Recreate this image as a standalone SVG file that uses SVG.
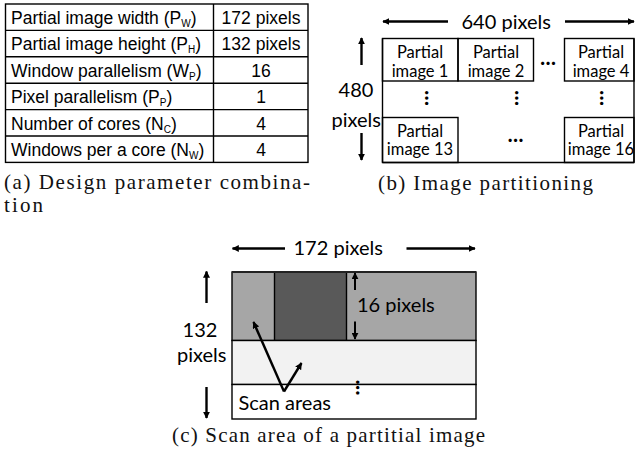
<svg xmlns="http://www.w3.org/2000/svg" width="635" height="453" viewBox="0 0 635 453">
  <defs>
    <marker id="ah" viewBox="0 0 10 10" refX="9" refY="5" markerWidth="7" markerHeight="7" markerUnits="userSpaceOnUse" orient="auto">
      <path d="M0,0 L10,5 L0,10 z" fill="#000"/>
    </marker>
    <style>
      .tbl { font-family: "Liberation Sans", Arial, sans-serif; font-size: 17.5px; fill: #000; }
      .sub { font-size: 10px; }
      .cal { font-family: Lato, "Open Sans", sans-serif; fill: #000; }
      .cell { font-size: 16.5px; }
      .lbl { font-size: 20px; }
      .cap { font-family: "Liberation Serif", "Times New Roman", serif; font-size: 21px; fill: #111; }
      .grid { fill: none; stroke: #000; stroke-width: 1.4; }
      .arr { stroke: #000; stroke-width: 2.4; fill: none; marker-end: url(#ah); }
      .dots { font-family: Lato, sans-serif; font-size: 20px; font-weight: 900; fill: #000; }
    </style>
  </defs>

  <!-- (a) parameter table -->
  <g id="param-table">
    <rect class="grid" x="5.5" y="4" width="302.5" height="158.4"/>
    <line class="grid" x1="213.5" y1="4" x2="213.5" y2="162.4"/>
    <line class="grid" x1="5.5" y1="30.4" x2="308" y2="30.4"/>
    <line class="grid" x1="5.5" y1="56.8" x2="308" y2="56.8"/>
    <line class="grid" x1="5.5" y1="83.2" x2="308" y2="83.2"/>
    <line class="grid" x1="5.5" y1="109.6" x2="308" y2="109.6"/>
    <line class="grid" x1="5.5" y1="136" x2="308" y2="136"/>
    <text class="tbl" x="11" y="24">Partial image width (P<tspan class="sub" dy="3">W</tspan><tspan dy="-3">)</tspan></text>
    <text class="tbl" x="11" y="50.4">Partial image height (P<tspan class="sub" dy="3">H</tspan><tspan dy="-3">)</tspan></text>
    <text class="tbl" x="11" y="76.8">Window parallelism (W<tspan class="sub" dy="3">P</tspan><tspan dy="-3">)</tspan></text>
    <text class="tbl" x="11" y="103.2">Pixel parallelism (P<tspan class="sub" dy="3">P</tspan><tspan dy="-3">)</tspan></text>
    <text class="tbl" x="11" y="129.6">Number of cores (N<tspan class="sub" dy="3">C</tspan><tspan dy="-3">)</tspan></text>
    <text class="tbl" x="11" y="156">Windows per a core (N<tspan class="sub" dy="3">W</tspan><tspan dy="-3">)</tspan></text>
    <g text-anchor="middle">
      <text class="tbl" x="261" y="24">172 pixels</text>
      <text class="tbl" x="261" y="50.4">132 pixels</text>
      <text class="tbl" x="261" y="76.8">16</text>
      <text class="tbl" x="261" y="103.2">1</text>
      <text class="tbl" x="261" y="129.6">4</text>
      <text class="tbl" x="261" y="156">4</text>
    </g>
  </g>
  <text class="cap" x="4" y="188.5" textLength="306" lengthAdjust="spacing">(a) Design parameter combina-</text>
  <text class="cap" x="4" y="212" textLength="39" lengthAdjust="spacing">tion</text>

  <!-- (b) image partitioning -->
  <g id="frame">
    <line class="grid" x1="382.5" y1="38.5" x2="382.5" y2="162.5"/>
    <line class="grid" x1="382.5" y1="162.5" x2="634" y2="162.5"/>
    <line class="grid" x1="634" y1="38.5" x2="634" y2="162.5"/>
  </g>
  <g id="partial-1">
    <rect class="grid" x="382.5" y="38.5" width="75.5" height="42.5"/>
    <text class="cal cell" x="420" y="58" text-anchor="middle">Partial</text>
    <text class="cal cell" x="420" y="76.5" text-anchor="middle">image 1</text>
  </g>
  <g id="partial-2">
    <rect class="grid" x="458" y="38.5" width="75.5" height="42.5"/>
    <text class="cal cell" x="496" y="58" text-anchor="middle">Partial</text>
    <text class="cal cell" x="496" y="76.5" text-anchor="middle">image 2</text>
  </g>
  <g id="partial-4">
    <rect class="grid" x="564.5" y="38.5" width="69.5" height="42.5"/>
    <text class="cal cell" x="601" y="58" text-anchor="middle">Partial</text>
    <text class="cal cell" x="601" y="76.5" text-anchor="middle">image 4</text>
  </g>
  <g id="partial-13">
    <rect class="grid" x="382.5" y="117.5" width="75.5" height="45"/>
    <text class="cal cell" x="420" y="136.5" text-anchor="middle">Partial</text>
    <text class="cal cell" x="420" y="155" text-anchor="middle">image 13</text>
  </g>
  <g id="partial-16">
    <rect class="grid" x="564.5" y="117.5" width="69.5" height="45"/>
    <text class="cal cell" x="601" y="136.5" text-anchor="middle">Partial</text>
    <text class="cal cell" x="601" y="155" text-anchor="middle">image 16</text>
  </g>
  <g id="ellipses-b">
    <text class="dots" x="548" y="65" text-anchor="middle">…</text>
    <text class="dots" x="515.5" y="141.5" text-anchor="middle">…</text>
    <text class="dots" text-anchor="middle" transform="translate(425,98) rotate(90)">…</text>
    <text class="dots" text-anchor="middle" transform="translate(515,98) rotate(90)">…</text>
    <text class="dots" text-anchor="middle" transform="translate(600,98) rotate(90)">…</text>
  </g>
  <g id="labels-b">
    <text class="cal lbl" x="461.5" y="29">640 pixels</text>
    <text class="cal lbl" x="356" y="97" text-anchor="middle">480</text>
    <text class="cal lbl" x="331.5" y="126.5">pixels</text>
  </g>
  <text class="cap" x="378" y="190" textLength="215" lengthAdjust="spacing">(b) Image partitioning</text>

  <!-- (c) scan area of a partial image -->
  <g id="partial-image">
    <rect x="232" y="272" width="244" height="68.5" fill="#a6a6a6" stroke="#000" stroke-width="1.4"/>
    <rect x="274.5" y="272" width="72" height="68.5" fill="#595959" stroke="#000" stroke-width="1.4"/>
    <rect x="232" y="340.5" width="244" height="44" fill="#f2f2f2" stroke="#000" stroke-width="1.4"/>
    <rect x="232" y="384.5" width="244" height="34.5" fill="#fff" stroke="#000" stroke-width="1.4"/>
    <line x1="232" y1="272" x2="476" y2="272" stroke="#222" stroke-width="2.2"/>
    <text class="dots" text-anchor="middle" transform="translate(356,387.5) rotate(90)">…</text>
  </g>
  <g id="labels-c">
    <text class="cal lbl" x="293.5" y="254.5">172 pixels</text>
    <text class="cal lbl" x="357" y="312">16 pixels</text>
    <text class="cal lbl" x="200" y="336.5" text-anchor="middle">132</text>
    <text class="cal lbl" x="177" y="361.5">pixels</text>
    <text class="cal lbl" x="238.5" y="410">Scan areas</text>
  </g>
  <text class="cap" x="172" y="442" textLength="313" lengthAdjust="spacing">(c) Scan area of a partitial image</text>

  <!-- dimension and pointer arrows -->
  <g id="connectors">
    <line class="arr" x1="448" y1="21.5" x2="383" y2="21.5"/>
    <line class="arr" x1="565" y1="21.5" x2="634" y2="21.5"/>
    <line class="arr" x1="361.5" y1="65" x2="361.5" y2="38"/>
    <line class="arr" x1="361.5" y1="133" x2="361.5" y2="160"/>
    <line class="arr" x1="285" y1="248.5" x2="232.5" y2="248.5"/>
    <line class="arr" x1="406.5" y1="248.5" x2="475" y2="248.5"/>
    <line class="arr" x1="206.5" y1="303" x2="206.5" y2="271.5"/>
    <line class="arr" x1="206.5" y1="387" x2="206.5" y2="418"/>
    <line class="arr" x1="355" y1="290" x2="355" y2="273" style="stroke-width:2"/>
    <line class="arr" x1="355" y1="321.5" x2="355" y2="339" style="stroke-width:2"/>
    <line class="arr" x1="284" y1="391.5" x2="253.5" y2="322"/>
    <line class="arr" x1="284" y1="391.5" x2="301.5" y2="363"/>
  </g>
</svg>
